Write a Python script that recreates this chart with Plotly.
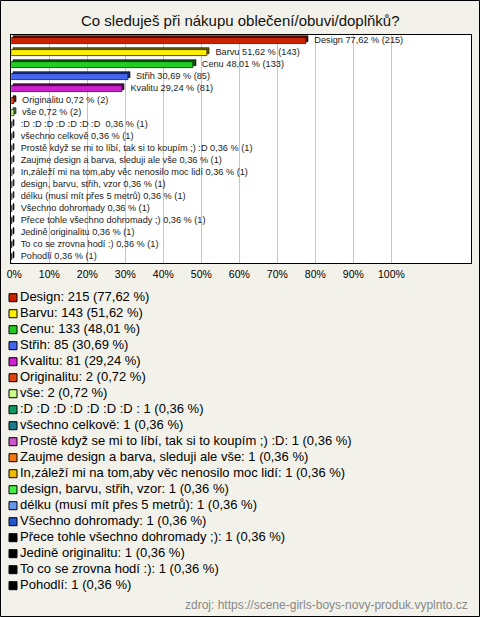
import plotly.graph_objects as go

# ---- data ----
categories = [
    "Design", "Barvu", "Cenu", "Střih", "Kvalitu", "Originalitu", "vše",
    ":D :D :D :D :D :D :D ", "všechno celkově",
    "Prostě když se mi to líbí, tak si to koupím ;) :D",
    "Zaujme design a barva, sleduji ale vše",
    "In,záleží mi na tom,aby věc nenosilo moc lidí",
    "design, barvu, střih, vzor", "délku (musí mít přes 5 metrů)",
    "Všechno dohromady", "Přece tohle všechno dohromady ;)",
    "Jedině originalitu", "To co se zrovna hodí :)", "Pohodlí",
]
counts = [215, 143, 133, 85, 81, 2, 2, 1, 1, 1, 1, 1, 1, 1, 1, 1, 1, 1, 1]
percents = [77.62, 51.62, 48.01, 30.69, 29.24, 0.72, 0.72, 0.36, 0.36, 0.36,
            0.36, 0.36, 0.36, 0.36, 0.36, 0.36, 0.36, 0.36, 0.36]
colors = ["#cc2200", "#ffee00", "#22cc22", "#4466ee", "#cc22cc", "#e04410",
          "#ccff88", "#119960", "#1a7a8a", "#cc55cc", "#ee7711", "#eebb00",
          "#44ee44", "#6699ee", "#2255cc", "#000000", "#000000", "#000000",
          "#000000"]
shadow_colors = ["#5a0e00", "#6a6200", "#0c550c", "#1c2c70", "#5a0c5a", "#601c06",
                 "#56703a", "#064028", "#0a3a42", "#5a245a", "#6a3408", "#6a5400",
                 "#1a6a1a", "#2c4470", "#0e2458", "#000000", "#000000", "#000000",
                 "#000000"]
tick_values = [0, 10, 20, 30, 40, 50, 60, 70, 80, 90, 100]
tick_labels = ["\u00a0\u00a00%", "10%", "20%", "30%", "40%", "50%",
               "60%", "70%", "80%", "90%", "100%"]
title_text = "Co sleduješ při nákupu oblečení/obuvi/doplňků?"
source_text = "zdroj: https://scene-girls-boys-novy-produk.vyplnto.cz"

def fmt(p):
    return f"{p:.2f}".replace(".", ",")

idx = list(range(len(categories)))
bar_labels = [f"{c} {fmt(p)} % ({n})" for c, p, n in zip(categories, percents, counts)]
legend_labels = [f"{c}: {n} ({fmt(p)} %)" for c, p, n in zip(categories, percents, counts)]

W, H = 480, 617
BG = "#f3f2ea"
FONT = "Liberation Sans, Arial, sans-serif"

fig = go.Figure()

# 3D depth of bars (behind)
fig.add_trace(go.Bar(
    x=percents, y=idx, orientation="h", base=0.55,
    width=0.46, offset=-0.23 - 0.17,
    marker=dict(color=shadow_colors, line=dict(color="#000000", width=0.6)),
    hoverinfo="skip", showlegend=False,
))
# front face
fig.add_trace(go.Bar(
    x=percents, y=idx, orientation="h", base=0,
    width=0.46, offset=-0.23,
    marker=dict(color=colors, line=dict(color="#1a1a1a", width=0.8)),
    hoverinfo="skip", showlegend=False,
))
# value labels
fig.add_trace(go.Scatter(
    x=[p + 2.1 for p in percents], y=idx, mode="text", text=bar_labels,
    textposition="middle right",
    textfont=dict(family=FONT, size=9.2, color="#222222"),
    cliponaxis=False, hoverinfo="skip", showlegend=False,
))

# custom legend (below the chart)
fig.add_trace(go.Scatter(
    x=[13] * len(idx), y=idx, mode="markers",
    marker=dict(symbol="square", size=8, color=colors,
                line=dict(color="#000000", width=1)),
    xaxis="x2", yaxis="y2", hoverinfo="skip", showlegend=False, cliponaxis=False,
))
fig.add_trace(go.Scatter(
    x=[20] * len(idx), y=idx, mode="text", text=legend_labels,
    textposition="middle right",
    textfont=dict(family=FONT, size=13, color="#000000"),
    xaxis="x2", yaxis="y2", hoverinfo="skip", showlegend=False, cliponaxis=False,
))

LEG_TOP = 297.7
LEG_STEP = 16.0
LEG_DOM_TOP = 285.0

fig.update_layout(
    width=W, height=H, autosize=False,
    margin=dict(l=0, r=0, t=0, b=0, autoexpand=False),
    paper_bgcolor=BG, plot_bgcolor="rgba(0,0,0,0)",
    barmode="overlay", bargap=0,
    font=dict(family=FONT),
    xaxis=dict(
        domain=[11.3 / W, 471.2 / W], range=[0, 121],
        tickvals=tick_values, ticktext=tick_labels,
        tickfont=dict(family=FONT, size=10.5, color="#000000"),
        ticks="", ticklabelstandoff=1,
        showgrid=True, gridcolor="#c6c6c6", gridwidth=1, zeroline=False,
        showline=True, linecolor="#000000", linewidth=1, mirror=True,
        fixedrange=True, anchor="y", automargin=False,
    ),
    yaxis=dict(
        domain=[1 - 263 / H, 1 - 35 / H], range=[18.5, -0.5],
        showticklabels=False, showgrid=False, zeroline=False, ticks="",
        showline=True, linecolor="#000000", linewidth=1, mirror=True,
        fixedrange=True, anchor="x", automargin=False,
    ),
    xaxis2=dict(domain=[0, 1], range=[0, W], visible=False, anchor="y2",
                fixedrange=True),
    yaxis2=dict(domain=[0, 1 - LEG_DOM_TOP / H],
                range=[(H - LEG_TOP) / LEG_STEP, (LEG_DOM_TOP - LEG_TOP) / LEG_STEP],
                visible=False, anchor="x2", fixedrange=True),
    annotations=[
        dict(text=title_text, x=0.5, y=1 - 20.5 / H, xref="paper", yref="paper",
             xanchor="center", yanchor="middle", showarrow=False,
             font=dict(family=FONT, size=15, color="#111111")),
        dict(text=source_text, x=470 / W, y=1 - 605 / H, xref="paper", yref="paper",
             xanchor="right", yanchor="middle", showarrow=False,
             font=dict(family=FONT, size=12, color="#888888")),
    ],
    shapes=[
        dict(type="rect", xref="x domain", yref="y domain",
             x0=0, x1=1, y0=0, y1=1, line=dict(width=0),
             fillcolor="#ffffff", layer="below"),
        dict(type="rect", xref="paper", yref="paper",
             x0=0.5 / W, x1=1 - 0.5 / W, y0=0.5 / H, y1=1 - 0.5 / H,
             line=dict(color="#000000", width=1), fillcolor="rgba(0,0,0,0)",
             layer="above"),
    ],
)

fig.write_html("out.html", config={"displayModeBar": False},
               post_script="document.body.style.margin='0';")
